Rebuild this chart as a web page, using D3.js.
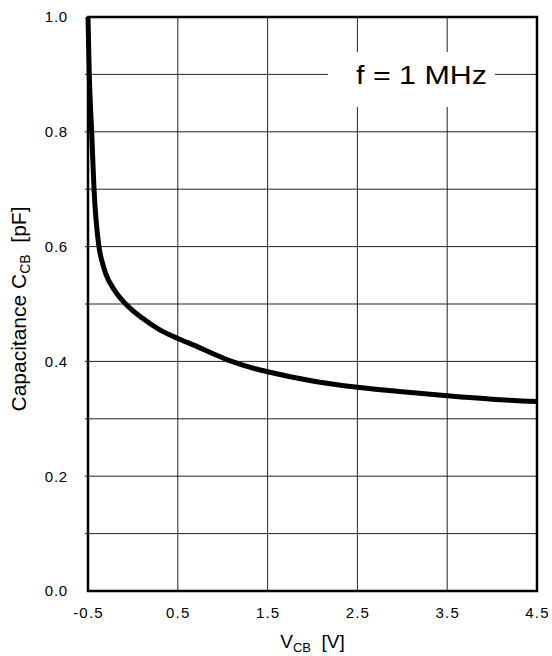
<!DOCTYPE html>
<html><head><meta charset="utf-8">
<script src="https://cdn.jsdelivr.net/npm/d3@7"></script>
<style>
html,body{margin:0;padding:0;background:#fff;}
text{font-family:"Liberation Sans",Arial,sans-serif;fill:#000;}
</style></head>
<body>
<script>
// Data
const vcb = [-0.5, -0.486, -0.459, -0.433, -0.378, -0.34, -0.303, -0.2, -0.08, 0.1, 0.3, 0.5, 0.7, 0.9, 1.1, 1.3, 1.5, 2.0, 2.5, 3.0, 3.5, 4.0, 4.5];
const ccb = [1.0, 0.9, 0.8, 0.7, 0.6, 0.572, 0.553, 0.523, 0.5, 0.476, 0.455, 0.44, 0.427, 0.413, 0.4, 0.39, 0.382, 0.366, 0.355, 0.347, 0.34, 0.334, 0.33];
const xTicks = [-0.5, 0.5, 1.5, 2.5, 3.5, 4.5];
const xTickLabels = ["-0.5", "0.5", "1.5", "2.5", "3.5", "4.5"];
const yTicks = [0.0, 0.2, 0.4, 0.6, 0.8, 1.0];
const yTickLabels = ["0.0", "0.2", "0.4", "0.6", "0.8", "1.0"];
const yGrid = [0.1, 0.2, 0.3, 0.4, 0.5, 0.6, 0.7, 0.8, 0.9];
const legendText = "f = 1 MHz";

const W = 552, H = 656;
const L = 88, R = 537, T = 17, B = 591;
const FF = "'Liberation Sans', Arial, sans-serif";
const svg = d3.select("body").append("svg").attr("width", W).attr("height", H);
const x = d3.scaleLinear().domain([-0.5, 4.5]).range([L, R]);
const y = d3.scaleLinear().domain([0, 1.0]).range([B, T]);

// grid
svg.append("g").selectAll("line").data(yGrid).join("line")
  .attr("x1", L - 3).attr("x2", R).attr("y1", d => y(d)).attr("y2", d => y(d))
  .attr("stroke", "#222").attr("stroke-width", 1);
svg.append("g").selectAll("line").data(xTicks.slice(1, -1)).join("line")
  .attr("x1", d => x(d)).attr("x2", d => x(d)).attr("y1", T).attr("y2", B)
  .attr("stroke", "#222").attr("stroke-width", 1);

// legend box
const lg = svg.append("g");
lg.append("rect").attr("x", 328).attr("y", 52).attr("width", 167).attr("height", 55).attr("fill", "#fff");
lg.append("text").attr("x", 356).attr("y", 84).attr("font-size", 25).attr("font-family", FF)
  .attr("textLength", 131).attr("lengthAdjust", "spacingAndGlyphs").text(legendText);

// curve
const pts = vcb.map((v, i) => [v, ccb[i]]);
const line = d3.line().x(d => x(d[0])).y(d => y(d[1])).curve(d3.curveMonotoneX);
svg.append("path").attr("d", line(pts)).attr("fill", "none").attr("stroke", "#000")
  .attr("stroke-width", 5).attr("stroke-linejoin", "round").attr("stroke-linecap", "butt");

// frame
svg.append("rect").attr("x", L).attr("y", T).attr("width", R - L).attr("height", B - T)
  .attr("fill", "none").attr("stroke", "#000").attr("stroke-width", 2.5);

// axes (labels via d3 axis)
const yAxis = d3.axisLeft(y).tickValues(yTicks).tickFormat((d, i) => yTickLabels[i]).tickSize(0).tickPadding(20);
const ya = svg.append("g").attr("transform", `translate(${L},0)`).call(yAxis);
ya.attr("font-family", FF);
ya.select(".domain").remove();
ya.selectAll("text").attr("font-size", 15).attr("letter-spacing", 0.8).attr("fill", "#000");

const xAxis = d3.axisBottom(x).tickValues(xTicks).tickFormat((d, i) => xTickLabels[i]).tickSize(0).tickPadding(16);
const xa = svg.append("g").attr("transform", `translate(0,${B})`).call(xAxis);
xa.attr("font-family", FF);
xa.select(".domain").remove();
xa.selectAll("text").attr("font-size", 15).attr("letter-spacing", 1.2).attr("fill", "#000");

// axis titles
const xt = svg.append("text").attr("x", (L + R) / 2).attr("y", 648).attr("text-anchor", "middle").attr("font-size", 19).attr("font-family", FF);
xt.append("tspan").text("V");
xt.append("tspan").attr("font-size", 13).attr("dy", 4).text("CB");
xt.append("tspan").attr("dy", -4).text("\u00a0\u00a0[V]");

const yt = svg.append("text").attr("transform", `translate(26,${(T + B) / 2 + 5}) rotate(-90)`)
  .attr("text-anchor", "middle").attr("font-size", 21).attr("font-family", FF);
yt.append("tspan").text("Capacitance C");
yt.append("tspan").attr("font-size", 14).attr("dy", 4).text("CB");
yt.append("tspan").attr("dy", -4).text("\u00a0\u00a0[pF]");
</script>
</body></html>
